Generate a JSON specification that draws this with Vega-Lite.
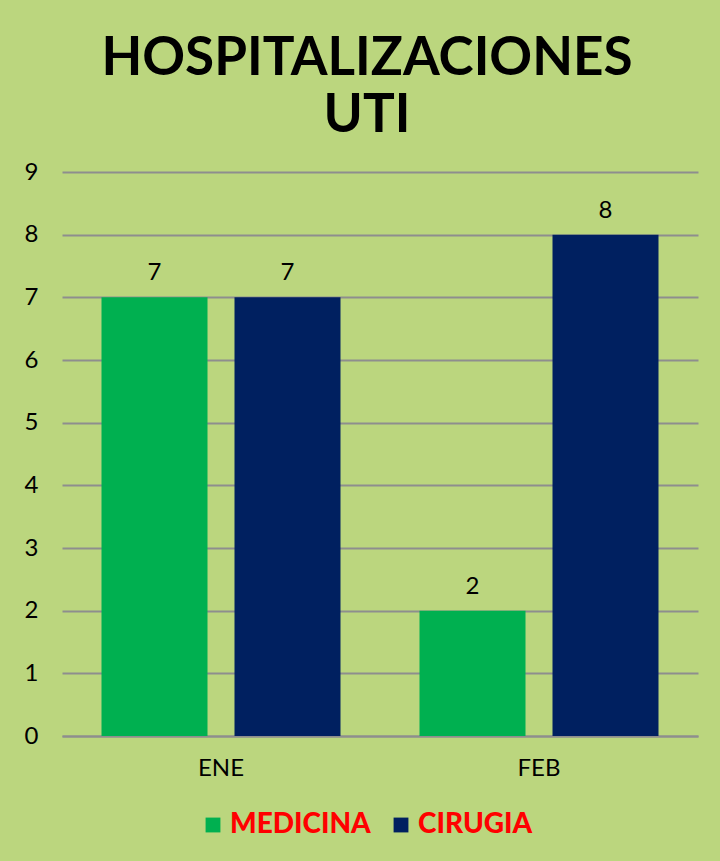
{
  "$schema": "https://vega.github.io/schema/vega-lite/v6.json",
  "width": 636,
  "height": 564,
  "autosize": {"type": "none"},
  "padding": {"left": 62, "top": 172, "right": 22, "bottom": 125},
  "background": "#BBD67E",
  "config": {"view": {"stroke": null}},
  "title": {
    "text": ["HOSPITALIZACIONES", "UTI"],
    "font": "Lato",
    "fontSize": 53,
    "fontWeight": "bold",
    "color": "#000000",
    "lineHeight": 57,
    "anchor": "middle",
    "dx": -13,
    "offset": 17
  },
  "data": {
    "values": [
      {"mes": "ENE", "servicio": "MEDICINA", "valor": 7},
      {"mes": "ENE", "servicio": "CIRUGIA", "valor": 7},
      {"mes": "FEB", "servicio": "MEDICINA", "valor": 2},
      {"mes": "FEB", "servicio": "CIRUGIA", "valor": 8}
    ]
  },
  "encoding": {
    "x": {
      "field": "mes",
      "type": "nominal",
      "sort": ["ENE", "FEB"],
      "scale": {"paddingInner": 0, "paddingOuter": 0},
      "axis": {
        "title": null,
        "labelAngle": 0,
        "labelFont": "Lato",
        "labelFontSize": 24,
        "labelColor": "#000000",
        "labelPadding": 20,
        "ticks": false,
        "domainColor": "#8E8E8E",
        "domainWidth": 2,
        "grid": false
      }
    },
    "xOffset": {
      "field": "servicio",
      "type": "nominal",
      "sort": ["MEDICINA", "CIRUGIA"],
      "scale": {"paddingInner": 0.203, "paddingOuter": 0.297}
    },
    "y": {
      "field": "valor",
      "type": "quantitative",
      "scale": {"domain": [0, 9], "nice": false},
      "axis": {
        "title": null,
        "values": [0, 1, 2, 3, 4, 5, 6, 7, 8, 9],
        "labelOverlap": false,
        "labelFont": "Lato",
        "labelFontSize": 24,
        "labelColor": "#000000",
        "labelPadding": 24,
        "ticks": false,
        "domain": false,
        "gridColor": "#8E8E8E",
        "gridWidth": 2
      }
    }
  },
  "layer": [
    {
      "mark": {"type": "bar"},
      "encoding": {
        "color": {
          "field": "servicio",
          "type": "nominal",
          "sort": ["MEDICINA", "CIRUGIA"],
          "scale": {"domain": ["MEDICINA", "CIRUGIA"], "range": ["#00B050", "#002060"]},
          "legend": {
            "title": null,
            "orient": "none",
            "legendX": 137,
            "legendY": 639,
            "direction": "horizontal",
            "symbolType": "square",
            "symbolSize": 220,
            "symbolStrokeWidth": 0,
            "labelFont": "Lato",
            "labelFontSize": 28,
            "labelFontWeight": 900,
            "labelColor": "#FF0000",
            "labelOffset": 3,
            "columnPadding": 16
          }
        }
      }
    },
    {
      "mark": {"type": "text", "dy": -24, "font": "Lato", "fontSize": 24, "color": "#000000"},
      "encoding": {
        "text": {"field": "valor", "type": "quantitative"}
      }
    }
  ]
}
